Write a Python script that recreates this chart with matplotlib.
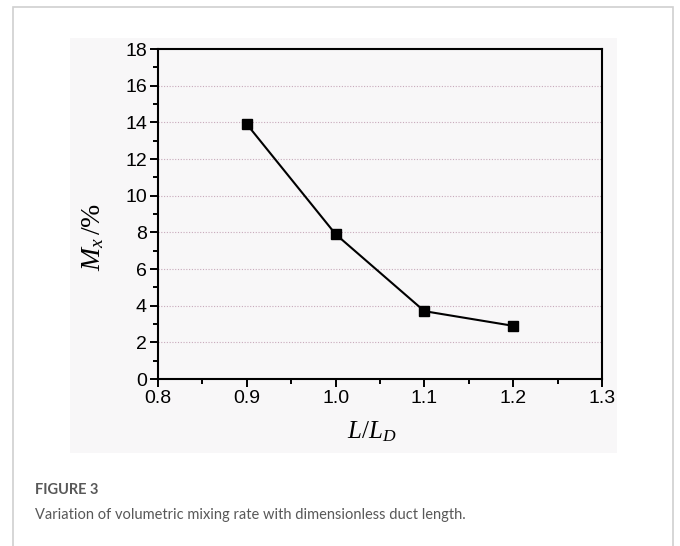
import matplotlib.pyplot as plt
from matplotlib.patches import Rectangle
from matplotlib.ticker import MultipleLocator

# data
ratio = [0.9, 1.0, 1.1, 1.2]
mixing = [13.9, 7.9, 3.7, 2.9]

plt.rcParams['font.family'] = 'Liberation Sans'
plt.rcParams['mathtext.fontset'] = 'custom'
plt.rcParams['mathtext.it'] = 'Liberation Serif:italic'
plt.rcParams['mathtext.rm'] = 'Liberation Serif'

W, H = 680, 546
fig = plt.figure(figsize=(W / 100, H / 100), dpi=100)

def px(x0, y0, x1, y1):
    # pixel box (top-left origin) -> figure fraction rect
    return [x0 / W, 1 - y1 / H, (x1 - x0) / W, (y1 - y0) / H]

# card border and image background
fig.patches.append(Rectangle((13 / W, -0.1), 660 / W, 1 - 7 / H + 0.1,
                             transform=fig.transFigure, fill=False,
                             edgecolor='#d0d0d0', lw=1.2, zorder=-2))
bx = px(70, 38, 617, 453)
fig.patches.append(Rectangle((bx[0], bx[1]), bx[2], bx[3],
                             transform=fig.transFigure,
                             facecolor='#f8f7f8', edgecolor='none', zorder=-2))

ax = fig.add_axes(px(158, 49, 602, 379))
ax.set_facecolor('none')
ax.plot(ratio, mixing, color='black', lw=1.5, marker='s', ms=7.5,
        markerfacecolor='black', markeredgecolor='black')

ax.set_xlim(0.8, 1.3)
ax.set_ylim(0, 18)
ax.xaxis.set_major_locator(MultipleLocator(0.1))
ax.xaxis.set_minor_locator(MultipleLocator(0.05))
ax.yaxis.set_major_locator(MultipleLocator(2))
ax.yaxis.set_minor_locator(MultipleLocator(1))
ax.tick_params(which='both', direction='out', width=1.4, colors='black')
ax.tick_params(which='major', length=6, labelsize=14, pad=2)
ax.tick_params(which='minor', length=3.5)
for s in ax.spines.values():
    s.set_linewidth(1.5)

for v in range(2, 18, 2):
    ax.axhline(v, color='#c8aabb', lw=0.8, ls=(0, (1, 1.5)), zorder=0)

ax.set_xlabel(r'$L/L_D$', fontsize=18)
ax.xaxis.set_label_coords(0.482, -0.122)
ax.set_ylabel(r'$M_x\,/\mathrm{\%}$', fontsize=20)
ax.yaxis.set_label_coords(-0.118, 0.43)

fig.text(35 / W, 1 - 490 / H, 'FIGURE 3', fontsize=10.5, color='#585858',
         family='Lato', weight='bold', va='center')
fig.text(35 / W, 1 - 515 / H,
         'Variation of volumetric mixing rate with dimensionless duct length.',
         fontsize=10.5, color='#585858', family='Lato', va='center')

fig.savefig('out.png', dpi=100)
